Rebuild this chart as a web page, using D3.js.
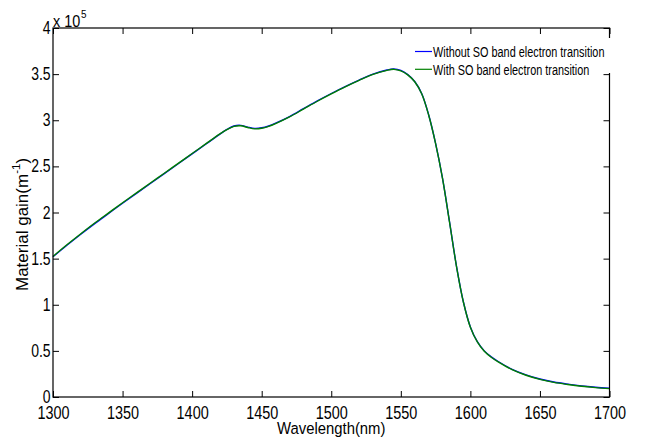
<!DOCTYPE html>
<html>
<head>
<meta charset="utf-8">
<script src="https://cdn.jsdelivr.net/npm/d3@7/dist/d3.min.js"></script>
<style type="text/css">
body {
	margin: 0;
	background: #fff;
}
text {
	font-family: "Liberation Sans", Arial, sans-serif;
	fill: #000;
}
.axis path {
	display: none;
}
.axis line {
	stroke: #000;
	stroke-width: 1;
}
</style>
</head>
<body>
<div id="chart"></div>
<script type="text/javascript">
// wavelength (nm)
var wavelength = [1300, 1310, 1320, 1330, 1340, 1350, 1360, 1370, 1380, 1390, 1400, 1410,
	1420, 1425, 1430, 1435, 1440, 1445, 1450, 1455, 1460, 1470, 1480, 1490, 1500, 1510,
	1520, 1530, 1540, 1545, 1550, 1555, 1560, 1565, 1570, 1575, 1580, 1585, 1590, 1595,
	1600, 1605, 1610, 1615, 1620, 1630, 1640, 1650, 1660, 1670, 1680, 1690, 1700];
// material gain, x 10^5 m^-1
var gainWithoutSO = [1.52, 1.645, 1.765, 1.88, 1.99, 2.10, 2.207, 2.314, 2.421, 2.528, 2.635, 2.742,
	2.85, 2.9, 2.938, 2.945, 2.926, 2.912, 2.918, 2.938, 2.968, 3.04, 3.125, 3.21, 3.29, 3.365,
	3.435, 3.50, 3.545, 3.556, 3.54, 3.495, 3.42, 3.29, 3.06, 2.75, 2.37, 1.90, 1.42, 1.03,
	0.76, 0.60, 0.50, 0.435, 0.385, 0.30, 0.24, 0.195, 0.162, 0.139, 0.12, 0.106, 0.095];
var gainWithSO = [1.524, 1.65, 1.77, 1.886, 1.996, 2.106, 2.213, 2.32, 2.426, 2.533, 2.639, 2.746,
	2.852, 2.898, 2.934, 2.94, 2.921, 2.907, 2.913, 2.934, 2.964, 3.036, 3.121, 3.206, 3.286, 3.362,
	3.432, 3.497, 3.541, 3.552, 3.536, 3.492, 3.417, 3.287, 3.057, 2.747, 2.367, 1.897, 1.417, 1.027,
	0.757, 0.597, 0.496, 0.431, 0.381, 0.296, 0.236, 0.191, 0.158, 0.135, 0.116, 0.102, 0.091];
var xTicks = [1300, 1350, 1400, 1450, 1500, 1550, 1600, 1650, 1700];
var yTicks = [0, 0.5, 1, 1.5, 2, 2.5, 3, 3.5, 4];
var yTickLabels = ["0", "0.5", "1", "1.5", "2", "2.5", "3", "3.5", "4"];
var seriesNames = ["Without SO band electron transition", "With SO band electron transition"];
var seriesColors = ["#0000ff", "#008000"];

var width = 653, height = 447;
var plotLeft = 53, plotRight = 609.5, plotTop = 28, plotBottom = 397;

var svg = d3.select("#chart").append("svg")
	.attr("width", width).attr("height", height);

var x = d3.scaleLinear().domain([1300, 1700]).range([plotLeft, plotRight]);
var y = d3.scaleLinear().domain([0, 4]).range([plotBottom, plotTop]);

// ticks on all four sides, pointing inward
var gx = svg.append("g").attr("class", "axis")
	.attr("transform", "translate(0," + plotBottom + ")")
	.call(d3.axisBottom(x).tickValues(xTicks).tickSize(-6).tickPadding(9).tickFormat(d3.format("d")));
gx.selectAll("text").attr("font-size", "18.5px").attr("transform", "scale(0.78,1)");

svg.append("g").attr("class", "axis")
	.attr("transform", "translate(0," + plotTop + ")")
	.call(d3.axisTop(x).tickValues(xTicks).tickSize(-6).tickFormat(""));

var gy = svg.append("g").attr("class", "axis")
	.attr("transform", "translate(" + plotLeft + ",0)")
	.call(d3.axisLeft(y).tickValues(yTicks).tickSize(-6).tickPadding(3)
		.tickFormat(function(d, i){ return yTickLabels[i]; }));
gy.selectAll("text").attr("font-size", "17.5px").attr("transform", "scale(0.8,1)");

svg.append("g").attr("class", "axis")
	.attr("transform", "translate(" + plotRight + ",0)")
	.call(d3.axisRight(y).tickValues(yTicks).tickSize(-6).tickFormat(""));

// curves
var line = function(vals){
	return d3.line()
		.x(function(d, i){ return x(wavelength[i]); })
		.y(function(d){ return y(d); })
		.curve(d3.curveCatmullRom.alpha(0.5))(vals);
};
[gainWithoutSO, gainWithSO].forEach(function(vals, i){
	svg.append("path")
		.attr("d", line(vals))
		.attr("fill", "none")
		.attr("stroke", seriesColors[i])
		.attr("stroke-width", 1.4);
});

// frame
svg.append("rect")
	.attr("x", plotLeft).attr("y", plotTop)
	.attr("width", plotRight - plotLeft).attr("height", plotBottom - plotTop)
	.attr("fill", "none").attr("stroke", "#000").attr("stroke-width", 1.2);

// legend (white box, no border, over the right axis)
var lg = svg.append("g");
lg.append("rect")
	.attr("x", 412).attr("y", 38).attr("width", 199).attr("height", 35)
	.attr("fill", "#fff");
seriesNames.forEach(function(name, i){
	var ly = 51.5 + i * 17.8;
	lg.append("line")
		.attr("x1", 415).attr("x2", 432).attr("y1", ly).attr("y2", ly)
		.attr("stroke", seriesColors[i]).attr("stroke-width", 1.2);
	lg.append("text")
		.attr("transform", "translate(433," + (ly + 5.2) + ") scale(0.75,1)")
		.attr("font-size", "14.5px")
		.text(name);
});

// exponent
var ex = svg.append("text")
	.attr("transform", "translate(53,26.5) scale(0.9,1)")
	.attr("font-size", "16px");
ex.append("tspan").text("x 10");
ex.append("tspan").attr("font-size", "11px").attr("dy", "-9").attr("dx", "1").text("5");

// axis titles
svg.append("text")
	.attr("transform", "translate(" + ((plotLeft + plotRight) / 2) + ",434) scale(0.9,1)")
	.attr("text-anchor", "middle")
	.attr("font-size", "16.5px")
	.text("Wavelength(nm)");

var yl = svg.append("text")
	.attr("transform", "translate(28,291) rotate(-90)")
	.attr("font-size", "17px");
yl.append("tspan").text("Material gain(m");
yl.append("tspan").attr("font-size", "11.5px").attr("dy", "-8").text("-1");
yl.append("tspan").attr("dy", "8").text(")");
</script>
</body>
</html>
